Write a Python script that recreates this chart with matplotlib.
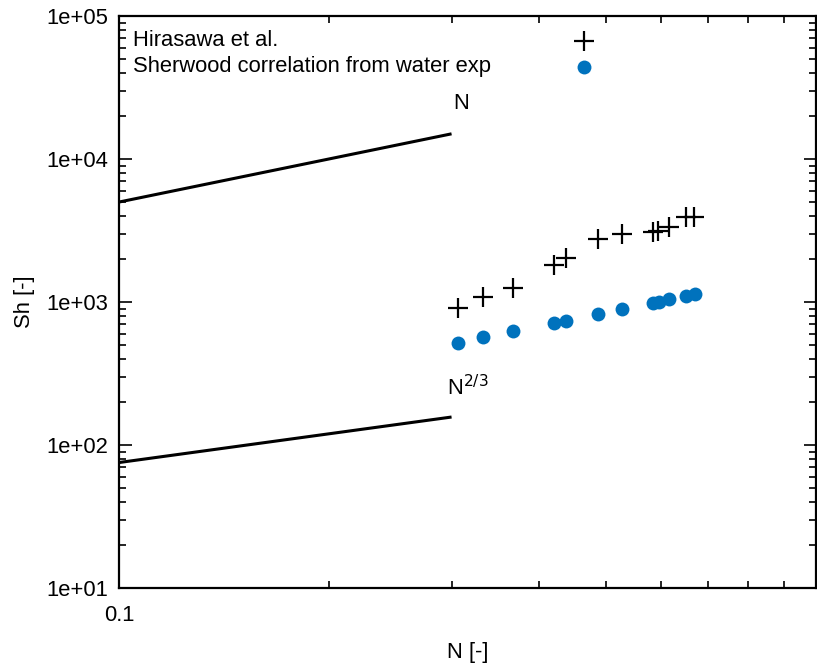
import matplotlib
matplotlib.use("Agg")
import matplotlib.pyplot as plt
from matplotlib.ticker import FixedLocator, NullFormatter

plt.rcParams['font.family'] = ['Liberation Sans', 'DejaVu Sans']

# Data
N_hira = [0.306, 0.333, 0.367, 0.421, 0.438, 0.486, 0.527, 0.583, 0.593, 0.616, 0.651, 0.669]
Sh_hira = [904, 1089, 1247, 1814, 2021, 2745, 2974, 3100, 3120, 3328, 3950, 3960]
N_water = [0.306, 0.333, 0.367, 0.421, 0.438, 0.486, 0.527, 0.583, 0.595, 0.616, 0.650, 0.671]
Sh_water = [519, 566, 627, 716, 740, 824, 893, 989, 1005, 1044, 1101, 1137]

line_N = [0.1, 0.3]
line_lin = [5000, 15000]
line_23 = [75.4, 156.9]

legend_labels = ['Hirasawa et al.', 'Sherwood correlation from water exp']

FS = 15.8

fig = plt.figure(figsize=(8.17, 6.68), dpi=100)
ax = fig.add_axes([119/817, 1-588/668, (816-119)/817, (588-16)/668])

ax.plot(line_N, line_lin, color='black', lw=2.2, solid_capstyle='butt')
ax.plot(line_N, line_23, color='black', lw=2.2, solid_capstyle='butt')
h1, = ax.plot(N_hira, Sh_hira, linestyle='none', marker='+', color='black',
              markersize=15, mew=1.6)
h2, = ax.plot(N_water, Sh_water, linestyle='none', marker='o', color='#0072BD',
              markersize=10, mew=0)

ax.text(0.302, 2.05e4, 'N', fontsize=FS, ha='left', va='bottom')
ax.text(0.296, 2.05e2, r'N$^{2/3}$', fontsize=FS, ha='left', va='bottom')

ax.set_xscale('log')
ax.set_yscale('log')
ax.set_xlim(0.1, 1)
ax.set_ylim(10, 1e5)

ax.xaxis.set_major_locator(FixedLocator([0.1, 1]))
ax.set_xticklabels(['0.1', ''])
ax.xaxis.set_minor_locator(FixedLocator([0.2, 0.3, 0.4, 0.5, 0.6, 0.7, 0.8, 0.9]))
ax.xaxis.set_minor_formatter(NullFormatter())
ax.yaxis.set_major_locator(FixedLocator([1e1, 1e2, 1e3, 1e4, 1e5]))
ax.set_yticklabels(['1e+01', '1e+02', '1e+03', '1e+04', '1e+05'])

ax.tick_params(which='both', direction='in', top=True, right=True, width=1.2, labelsize=FS)
ax.tick_params(which='major', length=9, pad=8)
ax.tick_params(axis='x', which='major', pad=12)
ax.tick_params(which='minor', length=5)
for s in ax.spines.values():
    s.set_linewidth(1.6)

ax.set_xlabel('N [-]', fontsize=FS, labelpad=12)
ax.set_ylabel('Sh [-]', fontsize=FS, labelpad=8)

# Legend: markers via legend (empty labels), texts left-aligned separately
leg = ax.legend([h1, h2], ['', ''], loc='center', bbox_to_anchor=(0.667, 0.9295),
                frameon=False, fontsize=FS, handletextpad=0, handlelength=2,
                labelspacing=0.2, borderpad=0, borderaxespad=0)
ax.text(0.02, 0.958, legend_labels[0], transform=ax.transAxes, fontsize=FS,
        ha='left', va='center')
ax.text(0.02, 0.9125, legend_labels[1], transform=ax.transAxes, fontsize=FS,
        ha='left', va='center')

fig.savefig('out.png', dpi=100)
